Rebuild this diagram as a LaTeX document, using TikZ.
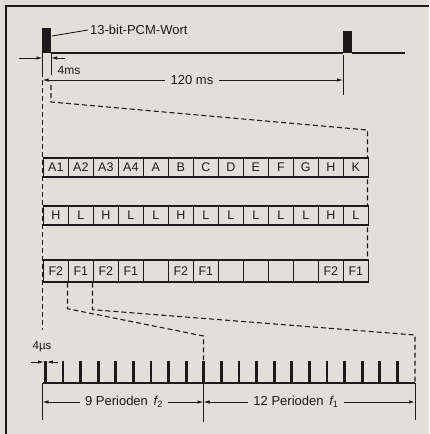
\documentclass[tikz,border=0pt]{standalone}
\usepackage{fontspec}
\setmainfont{Liberation Sans}
\usetikzlibrary{arrows.meta}
\definecolor{paper}{RGB}{226,223,219}
\definecolor{ink}{RGB}{28,26,26}
\begin{document}
\begin{tikzpicture}[x=1pt,y=-1pt,
  inkline/.style={draw=ink, line width=1.4pt},
  dashline/.style={draw=ink, line width=1.1pt, dash pattern=on 5pt off 3pt},
  thin/.style={draw=ink, line width=0.9pt},
  cell/.style={draw=ink, fill=paper, line width=1.7pt, minimum width=25pt, minimum height=19pt, inner sep=0pt, anchor=north west, font=\fontsize{12.5}{12}\selectfont, text=ink},
  cellb/.style={cell, minimum height=22pt},
  lbl/.style={font=\fontsize{13}{13}\selectfont, text=ink, inner sep=2pt},
  dim/.style={draw=ink, line width=0.9pt, {Latex[length=6pt,width=3.5pt]}-{Latex[length=6pt,width=3.5pt]}},
  tip/.style={draw=ink, line width=0.9pt, -{Latex[length=6pt,width=3.5pt]}},
]
\fill[paper] (0,0) rectangle (429,434);
\useasboundingbox (0,0) rectangle (429,434);
% frame
\draw[ink, line width=2.2pt] (6,434) -- (6,6) -- (429,6);

% top waveform
\fill[ink] (42,28) rectangle (51,53);
\fill[ink] (343,31) rectangle (352,53);
\draw[inkline] (51,53) -- (343,53);
\draw[inkline] (352,53) -- (405,53);
\node[lbl, anchor=west] (pcm) at (88,30) {13-bit-PCM-Wort};
\draw[thin] (52,36) -- (pcm.west);

% 4 ms
\coordinate (la) at (19,58);
\coordinate (lb) at (42.5,58);
\coordinate (ra) at (65,58);
\coordinate (rb) at (51,58);
\draw[tip] (la) -- (lb);
\draw[tip] (ra) -- (rb);
\draw[thin] (42.5,53) -- (42.5,72);
\draw[thin] (51,53) -- (51,75);
\node[lbl, font=\fontsize{12}{12}\selectfont] (t4) at (69,70) {4ms};

% 120 ms
\coordinate (d1) at (42.5,80);
\coordinate (d2) at (343,80);
\draw[dim] (d1) -- (d2);
\draw[thin] (343,55) -- (343,95);
\node[lbl, fill=paper, inner xsep=6pt] (t120) at (192,80) {120 ms};

% dashed guides
\draw[dashline] (51,85) -- (51,102) -- (367.5,130) -- (367.5,259);
\draw[dashline] (42.5,72) -- (42.5,330);

% rows
\foreach \t [count=\i from 0] in {A1,A2,A3,A4,A,B,C,D,E,F,G,H,K}
  \node[cell] (a\i) at (42.5+25*\i,157) {\t};
\foreach \t [count=\i from 0] in {H,L,H,L,L,H,L,L,L,L,L,H,L}
  \node[cell] (b\i) at (42.5+25*\i,205) {\t};
\foreach \t [count=\i from 0] in {F2,F1,F2,F1,{},F2,F1,{},{},{},{},F2,F1}
  \node[cellb] (c\i) at (42.5+25*\i,259) {\t};

% pulse train
\draw[inkline] (42.5,383) -- (415,383);
\foreach \k in {0,...,20}
  \fill[ink] (44+17.6*\k,361) rectangle ++(2.8,22);

% lower dashed guides
\coordinate (p9) at (203.5,360);
\coordinate (pe) at (415,383);
\draw[dashline] (c1.south west) -- ++(0,26) -- (203.5,336) -- (p9);
\draw[dashline] (c2.south west) -- ++(0,27) -- (415,335) -- (pe);

% 4 us
\node[lbl, font=\fontsize{11.5}{12}\selectfont] (t4us) at (42,347) {4µs};
\draw[tip] (31,362) -- (44,362);
\draw[tip] (58,362) -- (46.8,362);

% bottom dimensions
\draw[thin] (42.5,383) -- (42.5,420);
\draw[thin] (203.5,383) -- (203.5,422);
\draw[thin] (415,383) -- (415,420);
\coordinate (e1) at (42.5,402);
\coordinate (e2) at (203.5,402);
\coordinate (e3) at (415,402);
\draw[dim] (e1) -- (e2);
\draw[dim] (e2) -- (e3);
\node[lbl, fill=paper, inner xsep=5pt] (t9) at (124,402) {9 Perioden \,{\itshape f}\textsubscript{2}};
\node[lbl, fill=paper, inner xsep=5pt] (t12) at (296,402) {12 Perioden \,{\itshape f}\textsubscript{1}};
\end{tikzpicture}
\end{document}
